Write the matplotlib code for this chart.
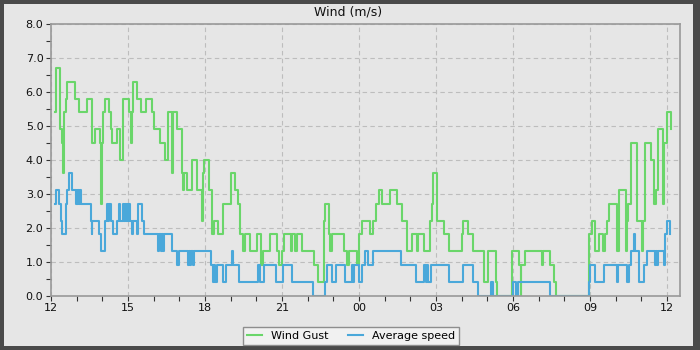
import matplotlib
matplotlib.use("Agg")
import matplotlib.pyplot as plt
from matplotlib.patches import Rectangle
from matplotlib.ticker import MultipleLocator, FormatStrFormatter

# hours since 12:00, value in m/s (step changes)
gust_t = [0.14, 0.19, 0.35, 0.43, 0.45, 0.48, 0.52, 0.57, 0.64, 0.95,
          1.08, 1.39, 1.58, 1.73, 1.91, 1.94, 2.00, 2.04, 2.09, 2.27,
          2.32, 2.39, 2.56, 2.70, 2.79, 3.05, 3.10, 3.14, 3.18, 3.36,
          3.51, 3.70, 3.92, 4.03, 4.25, 4.45, 4.55, 4.71, 4.77, 4.92,
          5.09, 5.13, 5.18, 5.29, 5.48, 5.68, 5.87, 5.91, 5.97, 6.16,
          6.29, 6.35, 6.52, 6.71, 7.01, 7.17, 7.30, 7.36, 7.49, 7.56,
          7.77, 8.01, 8.18, 8.25, 8.54, 8.81, 8.87, 9.00, 9.06, 9.33,
          9.39, 9.52, 9.58, 9.76, 10.25, 10.40, 10.62, 10.69, 10.82, 10.88,
          10.95, 11.43, 11.52, 11.62, 11.91, 12.01, 12.10, 12.44, 12.56, 12.66,
          12.78, 12.90, 13.21, 13.47, 13.67, 13.85, 14.05, 14.25, 14.31, 14.51,
          14.77, 14.83, 14.88, 15.04, 15.30, 15.49, 16.01, 16.06, 16.26, 16.44,
          16.88, 17.01, 17.34, 17.39, 17.95, 18.21, 18.29, 18.32, 18.48, 19.12,
          19.18, 19.44, 19.60, 19.68, 20.94, 21.06, 21.19, 21.36, 21.52, 21.58,
          21.64, 21.75, 22.04, 22.12, 22.40, 22.45, 22.49, 22.58, 22.84, 23.01,
          23.06, 23.12, 23.36, 23.50, 23.57, 23.66, 23.84, 23.88, 23.99, 24.14]
gust_v = [5.4, 6.7, 4.9, 4.5, 4.0, 3.6, 5.4, 5.8, 6.3, 5.8,
          5.4, 5.8, 4.5, 4.9, 4.5, 2.7, 4.5, 5.4, 5.8, 5.4,
          4.9, 4.5, 4.9, 4.0, 5.8, 5.4, 4.5, 5.4, 6.3, 5.8,
          5.4, 5.8, 5.4, 4.9, 4.5, 4.0, 5.4, 3.6, 5.4, 4.9,
          3.6, 3.1, 3.6, 3.1, 4.0, 3.1, 2.2, 3.6, 4.0, 3.1,
          1.8, 2.2, 1.8, 2.7, 3.6, 3.1, 2.7, 1.8, 1.3, 1.8,
          1.3, 1.8, 0.9, 1.3, 1.8, 1.3, 0.9, 1.3, 1.8, 1.3,
          1.8, 1.3, 1.8, 1.3, 0.9, 0.4, 2.2, 2.7, 1.8, 1.3,
          1.8, 1.3, 0.9, 1.3, 0.9, 1.8, 2.2, 1.8, 2.2, 2.7,
          3.1, 2.7, 3.1, 2.7, 2.2, 1.3, 1.8, 1.3, 1.8, 1.3,
          2.2, 2.7, 3.6, 2.2, 1.8, 1.3, 1.8, 2.2, 1.8, 1.3,
          0.4, 1.3, 0.4, 0.0, 1.3, 0.9, 0.0, 0.9, 1.3, 0.9,
          1.3, 0.9, 0.4, 0.0, 1.8, 2.2, 1.3, 1.8, 1.3, 1.8,
          2.2, 2.7, 1.3, 3.1, 1.3, 2.2, 2.7, 4.5, 2.2, 1.3,
          2.2, 4.5, 4.0, 2.7, 3.1, 4.9, 2.7, 4.5, 5.4, 4.9]

avg_t = [0.14, 0.19, 0.32, 0.38, 0.42, 0.57, 0.64, 0.70, 0.83, 0.97,
         1.00, 1.03, 1.06, 1.10, 1.13, 1.16, 1.55, 1.58, 1.61, 1.88,
         1.94, 2.10, 2.19, 2.23, 2.26, 2.32, 2.40, 2.58, 2.65, 2.69,
         2.80, 2.83, 2.88, 2.92, 2.96, 3.00, 3.03, 3.08, 3.14, 3.19,
         3.34, 3.40, 3.53, 3.62, 4.18, 4.22, 4.30, 4.33, 4.38, 4.41,
         4.70, 4.92, 5.00, 5.35, 5.38, 5.42, 5.47, 5.52, 5.57, 6.22,
         6.32, 6.35, 6.40, 6.45, 6.71, 6.81, 7.04, 7.08, 7.32, 8.05,
         8.16, 8.30, 8.78, 9.02, 9.38, 10.20, 10.68, 10.74, 10.94, 11.12,
         11.46, 11.72, 11.78, 11.82, 11.99, 12.10, 12.23, 12.36, 12.56, 13.62,
         14.20, 14.53, 14.60, 14.63, 14.67, 14.79, 15.51, 16.03, 16.42, 16.62,
         17.14, 17.21, 17.99, 18.12, 18.18, 19.43, 20.94, 21.00, 21.19, 21.55,
         22.04, 22.10, 22.43, 22.53, 22.58, 22.70, 22.74, 22.92, 23.10, 23.21,
         23.52, 23.56, 23.62, 23.66, 23.86, 23.92, 24.01, 24.12]
avg_v = [2.7, 3.1, 2.7, 2.2, 1.8, 2.7, 3.1, 3.6, 3.1, 2.7,
         3.1, 2.7, 3.1, 2.7, 3.1, 2.7, 2.2, 1.8, 2.2, 1.8,
         1.3, 2.2, 2.7, 2.2, 2.7, 2.2, 1.8, 2.2, 2.7, 2.2,
         2.7, 2.2, 2.7, 2.2, 2.7, 2.2, 2.7, 2.2, 1.8, 2.2,
         1.8, 2.7, 2.2, 1.8, 1.3, 1.8, 1.3, 1.8, 1.3, 1.8,
         1.3, 0.9, 1.3, 0.9, 1.3, 0.9, 1.3, 0.9, 1.3, 0.9,
         0.4, 0.9, 0.4, 0.9, 0.4, 0.9, 1.3, 0.9, 0.4, 0.9,
         0.4, 0.9, 0.4, 0.9, 0.4, 0.0, 0.4, 0.9, 0.4, 0.9,
         0.4, 0.9, 0.4, 0.9, 0.4, 0.9, 1.3, 0.9, 1.3, 0.9,
         0.4, 0.9, 0.4, 0.9, 0.4, 0.9, 0.4, 0.9, 0.4, 0.0,
         0.4, 0.0, 0.4, 0.0, 0.4, 0.0, 0.4, 0.9, 0.4, 0.9,
         0.4, 0.9, 0.4, 0.9, 1.3, 1.8, 1.3, 0.4, 0.9, 1.3,
         0.9, 1.3, 0.9, 1.3, 0.9, 1.8, 2.2, 1.8]

tick_pos = [0, 3, 6, 9, 12, 15, 18, 21, 24]
tick_lab = ["12", "15", "18", "21", "00", "03", "06", "09", "12"]

bg = "#e6e6e6"
fig = plt.figure(figsize=(7, 3.5), dpi=100, facecolor=bg)
fig.patch.set_edgecolor("#4a4a4a")
fig.patch.set_linewidth(4.5)
fig.patches.append(Rectangle((693 / 700, 0), 7 / 700, 1, transform=fig.transFigure,
                             facecolor="#4a4a4a", edgecolor="none"))

ax = fig.add_axes([51 / 700, 1 - 295.5 / 350, 629 / 700, 271.5 / 350])
ax.set_facecolor(bg)

ax.plot(gust_t, gust_v, drawstyle="steps-post", color="#6ad66a", lw=1.5, label="Wind Gust")
ax.plot(avg_t, avg_v, drawstyle="steps-post", color="#4aa8da", lw=1.5, label="Average speed")

ax.set_xlim(0, 24.5)
ax.set_ylim(0, 8)
ax.set_xticks(tick_pos)
ax.set_xticklabels(tick_lab)
ax.xaxis.set_minor_locator(MultipleLocator(1))
ax.yaxis.set_major_locator(MultipleLocator(1))
ax.yaxis.set_minor_locator(MultipleLocator(0.5))
ax.yaxis.set_major_formatter(FormatStrFormatter("%.1f"))
ax.tick_params(which="both", direction="out", length=3.5, width=0.8, color="#333333",
               labelsize=8, labelcolor="#111111", pad=2)
for s in ax.spines.values():
    s.set_color("#999999")
    s.set_linewidth(1.2)
ax.grid(True, which="major", color="#bdbdbd", linestyle=(0, (4, 3)), linewidth=0.8)
ax.set_axisbelow(True)

fig.text(0.497, 1 - 12 / 350, "Wind (m/s)", ha="center", va="center", fontsize=9, color="#111111")

leg = fig.legend(loc="center", bbox_to_anchor=(351 / 700, 1 - 336 / 350), ncol=2,
                 fontsize=8, frameon=True, fancybox=False, handlelength=1.3,
                 handletextpad=0.8, columnspacing=1.8, borderpad=0.4)
leg.get_frame().set_facecolor("#f4f4f4")
leg.get_frame().set_edgecolor("#777777")
leg.get_frame().set_linewidth(1.0)

fig.savefig("out.png", dpi=100)
